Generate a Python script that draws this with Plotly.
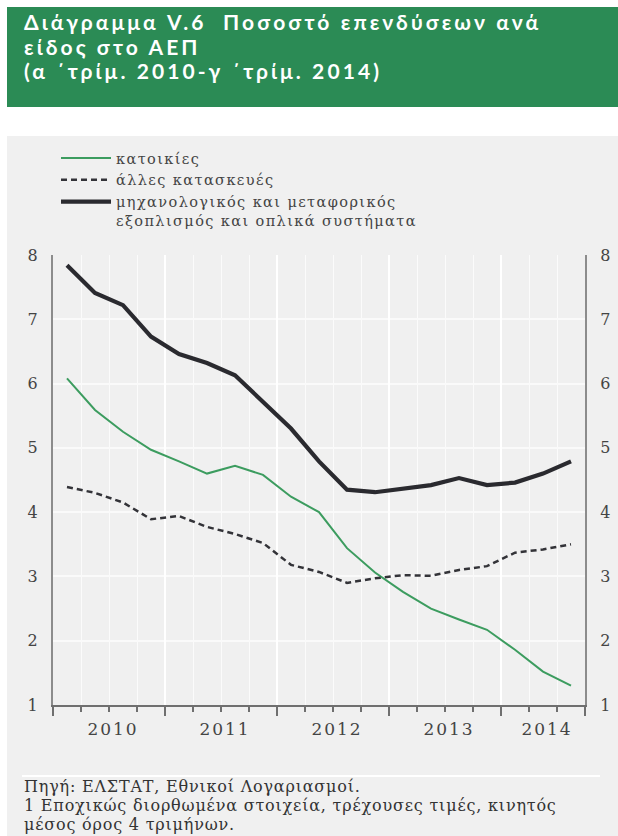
import plotly.graph_objects as go

# Quarterly series, a' 2010 .. c' 2014 (19 quarters), % of GDP
quarters = list(range(19))
years = ["2010", "2011", "2012", "2013", "2014"]
year_centres = [2, 6, 10, 14, 17.5]
year_bounds = [0, 4, 8, 12, 16, 19]
quarter_bounds = list(range(20))

housing = [6.08, 5.59, 5.25, 4.97, 4.79, 4.60, 4.72, 4.58, 4.24, 4.00,
           3.44, 3.06, 2.76, 2.50, 2.33, 2.17, 1.86, 1.52, 1.30]
other_construction = [4.39, 4.30, 4.15, 3.89, 3.94, 3.77, 3.66, 3.52, 3.18, 3.07,
                      2.90, 2.97, 3.02, 3.01, 3.10, 3.16, 3.37, 3.42, 3.50]
equipment = [7.84, 7.41, 7.22, 6.73, 6.46, 6.32, 6.13, 5.72, 5.30, 4.79,
             4.35, 4.31, 4.36, 4.42, 4.53, 4.42, 4.46, 4.60, 4.79]

y_ticks = [1, 2, 3, 4, 5, 6, 7, 8]

names = ["κατοικίες", "άλλες κατασκευές",
         "μηχανολογικός και μεταφορικός<br>εξοπλισμός και οπλικά συστήματα"]


def spaced(text, px):
    return f'<span style="letter-spacing:{px}px">{text}</span>'


def spaced_lines(text, px):
    return "<br>".join(spaced(part, px) for part in text.split("<br>"))


W, H = 618, 836
BG = "#f0f0f0"
GREEN = "#2b8b55"
SERIF = "DejaVu Serif"
TXT = "#444444"

x_mid = [q + 0.5 for q in quarters]

fig = go.Figure()
fig.add_trace(go.Scatter(x=x_mid, y=housing, mode="lines",
                         name=spaced_lines(names[0], 1.4),
                         line=dict(color="#3c9c5f", width=2)))
fig.add_trace(go.Scatter(x=x_mid, y=other_construction, mode="lines",
                         name=spaced_lines(names[1], 1.4),
                         line=dict(color="#333338", width=2.5, dash="6px,4px")))
fig.add_trace(go.Scatter(x=x_mid, y=equipment, mode="lines",
                         name=spaced_lines(names[2], 1.4),
                         line=dict(color="#2a2a2f", width=4.2)))
# right-hand axis carrier
fig.add_trace(go.Scatter(x=[None], y=[None], xaxis="x2", yaxis="y2",
                         showlegend=False, hoverinfo="skip"))

x0, x1 = 53 / W, 585 / W
y0, y1 = (H - 705) / H, (H - 255) / H

fig.update_layout(
    width=W, height=H,
    margin=dict(l=0, r=0, t=0, b=0, autoexpand=False),
    paper_bgcolor="white",
    plot_bgcolor=BG,
    showlegend=True,
    legend=dict(
        x=56 / W, y=(H - 142) / H, xanchor="left", yanchor="top",
        bgcolor="rgba(0,0,0,0)", valign="top", tracegroupgap=0,
        itemwidth=50,
        font=dict(family=SERIF, size=14.5, color=TXT),
    ),
    xaxis=dict(
        domain=[x0, x1], range=[0, 19], anchor="y", automargin=False,
        tickmode="array", tickvals=year_centres,
        ticktext=[spaced(y, 2) for y in years],
        ticks="", showgrid=False, zeroline=False,
        showline=True, linecolor="#6f6f6f", linewidth=1.5,
        tickfont=dict(family=SERIF, size=17, color=TXT),
        ticklabelstandoff=8, ticklabelshift=4,
        minor=dict(tickmode="array", tickvals=quarter_bounds, ticks="outside",
                   ticklen=5, tickwidth=1.5, tickcolor="#6f6f6f",
                   showgrid=True, gridcolor="#fbfbfb", gridwidth=1),
    ),
    xaxis2=dict(
        domain=[x0, x1], range=[0, 19], overlaying="x", anchor="y", automargin=False,
        tickmode="array", tickvals=year_bounds, ticks="outside",
        ticklen=10, tickwidth=1.5, tickcolor="#6f6f6f",
        showticklabels=False, showgrid=True, gridcolor="#ffffff", gridwidth=2,
        zeroline=False, showline=False,
    ),
    yaxis=dict(
        domain=[y0, y1], range=[1, 8], anchor="x", automargin=False,
        tickmode="array", tickvals=y_ticks, ticks="",
        showgrid=True, gridcolor="#fafafa", gridwidth=1.5, zeroline=False,
        showline=True, linecolor="#8c8c8c", linewidth=2,
        tickfont=dict(family=SERIF, size=16, color=TXT),
        ticklabelstandoff=10,
    ),
    yaxis2=dict(
        domain=[y0, y1], range=[1, 8], overlaying="y", side="right", anchor="x",
        automargin=False,
        tickmode="array", tickvals=y_ticks, ticks="",
        showgrid=False, zeroline=False,
        showline=True, linecolor="#8c8c8c", linewidth=2,
        tickfont=dict(family=SERIF, size=16, color=TXT),
        ticklabelstandoff=10,
    ),
    shapes=[
        dict(type="rect", xref="paper", yref="paper", layer="below",
             x0=7 / W, x1=1, y0=(H - 107) / H, y1=(H - 7) / H,
             fillcolor=GREEN, line=dict(width=0)),
        dict(type="rect", xref="paper", yref="paper", layer="below",
             x0=7 / W, x1=1, y0=0, y1=(H - 136) / H,
             fillcolor=BG, line=dict(width=0)),
        dict(type="line", xref="paper", yref="paper", layer="below",
             x0=22 / W, x1=600 / W, y0=(H - 776) / H, y1=(H - 776) / H,
             line=dict(color="#ffffff", width=2)),
    ],
)

title_lines = ["Διάγραμμα V.6  Ποσοστό επενδύσεων ανά",
               "είδος στο ΑΕΠ",
               "(α ΄τρίμ. 2010-γ ΄τρίμ. 2014)"]
for i, line in enumerate(title_lines):
    fig.add_annotation(
        xref="paper", yref="paper", x=22 / W, y=(H - (22 + 24 * i)) / H,
        xanchor="left", yanchor="middle", showarrow=False,
        text=spaced(line, 3.1),
        font=dict(family="Lato", size=21, color="white", weight="bold"),
    )

notes = ["Πηγή: ΕΛΣΤΑΤ, Εθνικοί Λογαριασμοί.",
         "1 Εποχικώς διορθωμένα στοιχεία, τρέχουσες τιμές, κινητός",
         "μέσος όρος 4 τριμήνων."]
for i, line in enumerate(notes):
    fig.add_annotation(
        xref="paper", yref="paper", x=22 / W, y=(H - (786 + 19 * i)) / H,
        xanchor="left", yanchor="middle", showarrow=False, text=spaced(line, 0.8),
        font=dict(family=SERIF, size=16, color="#333333"),
    )

fig.write_html("out.html")
